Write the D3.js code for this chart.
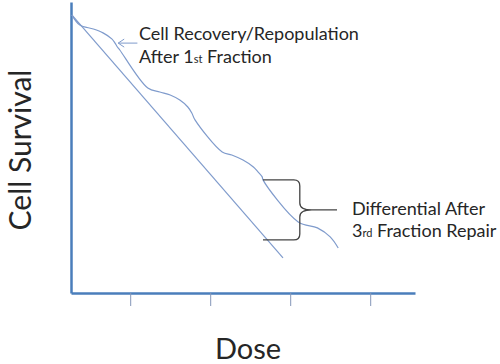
<!DOCTYPE html>
<html>
<head>
<meta charset="utf-8">
<script src="https://cdn.jsdelivr.net/npm/d3@7"></script>
<style>
  body { margin: 0; background: #fff; }
  svg { display: block; }
  text { font-family: Lato, "Open Sans", sans-serif; fill: #262626; }
</style>
</head>
<body>
<div id="container"></div>
<script>
// single dose: straight log-linear kill curve
const singleDose = [0.27, 2.91];
const singleSurvival = [-0.33, -8.43];

// fractionated dose: steep kill then a shoulder (repair) after each fraction
const fractionDose = [0.27, 0.37, 0.54, 0.66, 0.77, 0.81, 0.84, 0.87,
  1.22, 1.37, 1.50, 1.62, 1.72, 1.77, 1.81,
  2.15, 2.27, 2.41, 2.54, 2.60, 2.65, 2.66,
  3.10, 3.34, 3.50, 3.60];
const fractionSurvival = [-0.33, -0.67, -0.80, -0.93, -1.13, -1.27, -1.40, -1.50,
  -2.77, -2.90, -3.00, -3.17, -3.40, -3.60, -3.83,
  -4.90, -5.00, -5.17, -5.40, -5.57, -5.73, -5.83,
  -7.23, -7.43, -7.73, -8.10];

const doseTicks = [1, 2, 3, 4];

const width = 500, height = 364;

const svg = d3.select("#container")
  .append("svg")
  .attr("width", width)
  .attr("height", height);

const x = d3.scaleLinear().domain([0.26, 4.56]).range([71, 415]);
const y = d3.scaleLinear().domain([0.1, -9.6]).range([2, 293]);

// axes
const xAxis = svg.append("g")
  .attr("transform", `translate(0,${y(-9.6)})`)
  .call(d3.axisBottom(x).tickValues(doseTicks).tickSize(13).tickSizeOuter(0).tickFormat(""));
xAxis.selectAll(".tick line").attr("stroke", "#8497b8").attr("stroke-width", 1);
xAxis.select(".domain").attr("stroke", "#4a7ebb").attr("stroke-width", 2.5);

const yAxis = svg.append("g")
  .attr("transform", `translate(${x(0.26)},0)`)
  .call(d3.axisLeft(y).tickValues([]).tickSizeOuter(0));
yAxis.select(".domain").attr("stroke", "#4a7ebb").attr("stroke-width", 2.5);

// curves
const line = d3.line()
  .x((d) => x(d[0]))
  .y((d) => y(d[1]))
  .curve(d3.curveCatmullRom.alpha(0.5));

svg.append("path")
  .datum(d3.zip(singleDose, singleSurvival))
  .attr("fill", "none")
  .attr("stroke", "#7f9bcc")
  .attr("stroke-width", 1.2)
  .attr("d", line);

svg.append("path")
  .datum(d3.zip(fractionDose, fractionSurvival))
  .attr("fill", "none")
  .attr("stroke", "#7f9bcc")
  .attr("stroke-width", 1.2)
  .attr("d", line);

// arrow to the first shoulder
const ax0 = x(1.09), ax1 = x(0.85), ay = y(-1.27);
svg.append("path")
  .attr("d", `M${ax0},${ay}H${ax1}M${ax1 + 6},${ay - 4}L${ax1},${ay}L${ax1 + 6},${ay + 4}`)
  .attr("fill", "none")
  .attr("stroke", "#7f9bcc")
  .attr("stroke-width", 1);

// brace showing the differential
const bl = x(2.66), bm = x(3.12), bt = x(3.585);
const yt = y(-5.83), ym = y(-6.83), yb = y(-7.83);
svg.append("path")
  .attr("d", `M${bl},${yt}H${bm - 6}Q${bm},${yt} ${bm},${yt + 6}V${ym - 7}Q${bm},${ym} ${bm + 12},${ym}H${bt}` +
    `M${bm + 12},${ym}Q${bm},${ym} ${bm},${ym + 7}V${yb - 6}Q${bm},${yb} ${bm - 6},${yb}H${bl}`)
  .attr("fill", "none")
  .attr("stroke", "#444")
  .attr("stroke-width", 1.3);

// annotations
const note1 = svg.append("text").attr("x", 139).attr("y", 40).attr("font-size", 18);
note1.append("tspan").text("Cell Recovery/Repopulation");
const note1b = svg.append("text").attr("x", 139).attr("y", 63).attr("font-size", 18);
note1b.append("tspan").text("After 1");
note1b.append("tspan").attr("font-size", 11).text("st");
note1b.append("tspan").text(" Fraction");

svg.append("text").attr("x", 352).attr("y", 215).attr("font-size", 18).text("Differential After");
const note2b = svg.append("text").attr("x", 352).attr("y", 237).attr("font-size", 18);
note2b.append("tspan").text("3");
note2b.append("tspan").attr("font-size", 11).text("rd");
note2b.append("tspan").text(" Fraction Repair");

// axis titles
svg.append("text")
  .attr("x", 248).attr("y", 359)
  .attr("text-anchor", "middle")
  .attr("font-size", 29)
  .text("Dose");

svg.append("text")
  .attr("transform", "translate(31,150) rotate(-90)")
  .attr("text-anchor", "middle")
  .attr("font-size", 30)
  .text("Cell Survival");
</script>
</body>
</html>
